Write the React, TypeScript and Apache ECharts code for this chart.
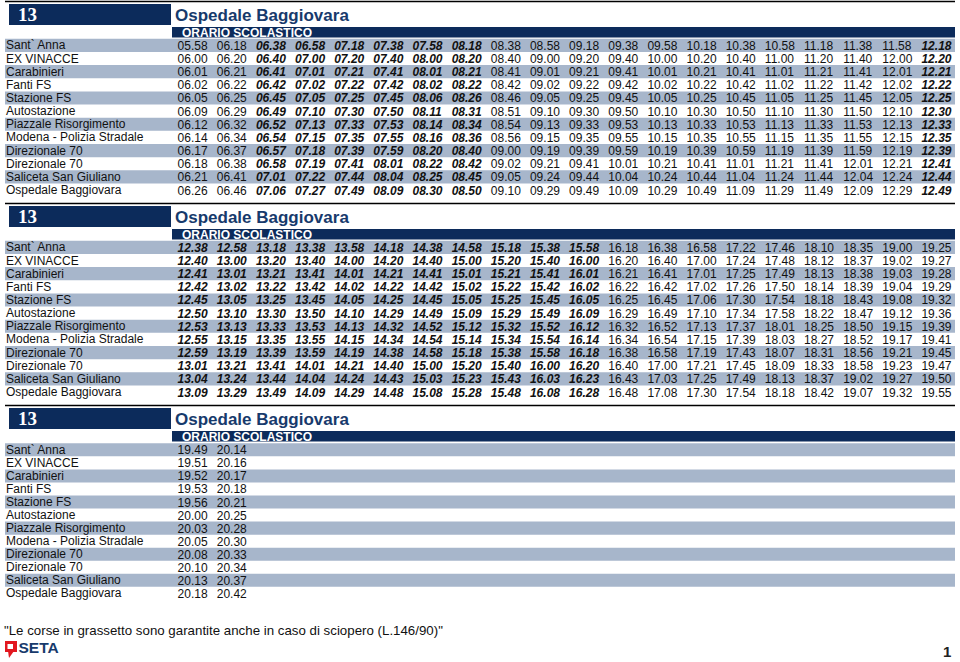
import React, { useEffect, useRef } from "react";
import * as echarts from "echarts";

// ---------- text content ----------
const ROUTE = "13";
const TITLE = "Ospedale Baggiovara";
const SUBTITLE = "ORARIO SCOLASTICO";
const FOOTNOTE = "\"Le corse in grassetto sono garantite anche in caso di sciopero (L.146/90)\"";
const BRAND = "SETA";
const PAGE = "1";

// ---------- stops (row labels) ----------
const stops = [
  "Sant` Anna",
  "EX VINACCE",
  "Carabinieri",
  "Fanti FS",
  "Stazione FS",
  "Autostazione",
  "Piazzale Risorgimento",
  "Modena - Polizia Stradale",
  "Direzionale 70",
  "Direzionale 70",
  "Saliceta San Giuliano",
  "Ospedale Baggiovara",
];

// ---------- trips (one array per run, top to bottom) ----------
const morningTrips = [
  ["05.58", "06.00", "06.01", "06.02", "06.05", "06.09", "06.12", "06.14", "06.17", "06.18", "06.21", "06.26"],
  ["06.18", "06.20", "06.21", "06.22", "06.25", "06.29", "06.32", "06.34", "06.37", "06.38", "06.41", "06.46"],
  ["06.38", "06.40", "06.41", "06.42", "06.45", "06.49", "06.52", "06.54", "06.57", "06.58", "07.01", "07.06"],
  ["06.58", "07.00", "07.01", "07.02", "07.05", "07.10", "07.13", "07.15", "07.18", "07.19", "07.22", "07.27"],
  ["07.18", "07.20", "07.21", "07.22", "07.25", "07.30", "07.33", "07.35", "07.39", "07.41", "07.44", "07.49"],
  ["07.38", "07.40", "07.41", "07.42", "07.45", "07.50", "07.53", "07.55", "07.59", "08.01", "08.04", "08.09"],
  ["07.58", "08.00", "08.01", "08.02", "08.06", "08.11", "08.14", "08.16", "08.20", "08.22", "08.25", "08.30"],
  ["08.18", "08.20", "08.21", "08.22", "08.26", "08.31", "08.34", "08.36", "08.40", "08.42", "08.45", "08.50"],
  ["08.38", "08.40", "08.41", "08.42", "08.46", "08.51", "08.54", "08.56", "09.00", "09.02", "09.05", "09.10"],
  ["08.58", "09.00", "09.01", "09.02", "09.05", "09.10", "09.13", "09.15", "09.19", "09.21", "09.24", "09.29"],
  ["09.18", "09.20", "09.21", "09.22", "09.25", "09.30", "09.33", "09.35", "09.39", "09.41", "09.44", "09.49"],
  ["09.38", "09.40", "09.41", "09.42", "09.45", "09.50", "09.53", "09.55", "09.59", "10.01", "10.04", "10.09"],
  ["09.58", "10.00", "10.01", "10.02", "10.05", "10.10", "10.13", "10.15", "10.19", "10.21", "10.24", "10.29"],
  ["10.18", "10.20", "10.21", "10.22", "10.25", "10.30", "10.33", "10.35", "10.39", "10.41", "10.44", "10.49"],
  ["10.38", "10.40", "10.41", "10.42", "10.45", "10.50", "10.53", "10.55", "10.59", "11.01", "11.04", "11.09"],
  ["10.58", "11.00", "11.01", "11.02", "11.05", "11.10", "11.13", "11.15", "11.19", "11.21", "11.24", "11.29"],
  ["11.18", "11.20", "11.21", "11.22", "11.25", "11.30", "11.33", "11.35", "11.39", "11.41", "11.44", "11.49"],
  ["11.38", "11.40", "11.41", "11.42", "11.45", "11.50", "11.53", "11.55", "11.59", "12.01", "12.04", "12.09"],
  ["11.58", "12.00", "12.01", "12.02", "12.05", "12.10", "12.13", "12.15", "12.19", "12.21", "12.24", "12.29"],
  ["12.18", "12.20", "12.21", "12.22", "12.25", "12.30", "12.33", "12.35", "12.39", "12.41", "12.44", "12.49"],
];
const morningBold = [2, 3, 4, 5, 6, 7, 19];

const afternoonTrips = [
  ["12.38", "12.40", "12.41", "12.42", "12.45", "12.50", "12.53", "12.55", "12.59", "13.01", "13.04", "13.09"],
  ["12.58", "13.00", "13.01", "13.02", "13.05", "13.10", "13.13", "13.15", "13.19", "13.21", "13.24", "13.29"],
  ["13.18", "13.20", "13.21", "13.22", "13.25", "13.30", "13.33", "13.35", "13.39", "13.41", "13.44", "13.49"],
  ["13.38", "13.40", "13.41", "13.42", "13.45", "13.50", "13.53", "13.55", "13.59", "14.01", "14.04", "14.09"],
  ["13.58", "14.00", "14.01", "14.02", "14.05", "14.10", "14.13", "14.15", "14.19", "14.21", "14.24", "14.29"],
  ["14.18", "14.20", "14.21", "14.22", "14.25", "14.29", "14.32", "14.34", "14.38", "14.40", "14.43", "14.48"],
  ["14.38", "14.40", "14.41", "14.42", "14.45", "14.49", "14.52", "14.54", "14.58", "15.00", "15.03", "15.08"],
  ["14.58", "15.00", "15.01", "15.02", "15.05", "15.09", "15.12", "15.14", "15.18", "15.20", "15.23", "15.28"],
  ["15.18", "15.20", "15.21", "15.22", "15.25", "15.29", "15.32", "15.34", "15.38", "15.40", "15.43", "15.48"],
  ["15.38", "15.40", "15.41", "15.42", "15.45", "15.49", "15.52", "15.54", "15.58", "16.00", "16.03", "16.08"],
  ["15.58", "16.00", "16.01", "16.02", "16.05", "16.09", "16.12", "16.14", "16.18", "16.20", "16.23", "16.28"],
  ["16.18", "16.20", "16.21", "16.22", "16.25", "16.29", "16.32", "16.34", "16.38", "16.40", "16.43", "16.48"],
  ["16.38", "16.40", "16.41", "16.42", "16.45", "16.49", "16.52", "16.54", "16.58", "17.00", "17.03", "17.08"],
  ["16.58", "17.00", "17.01", "17.02", "17.06", "17.10", "17.13", "17.15", "17.19", "17.21", "17.25", "17.30"],
  ["17.22", "17.24", "17.25", "17.26", "17.30", "17.34", "17.37", "17.39", "17.43", "17.45", "17.49", "17.54"],
  ["17.46", "17.48", "17.49", "17.50", "17.54", "17.58", "18.01", "18.03", "18.07", "18.09", "18.13", "18.18"],
  ["18.10", "18.12", "18.13", "18.14", "18.18", "18.22", "18.25", "18.27", "18.31", "18.33", "18.37", "18.42"],
  ["18.35", "18.37", "18.38", "18.39", "18.43", "18.47", "18.50", "18.52", "18.56", "18.58", "19.02", "19.07"],
  ["19.00", "19.02", "19.03", "19.04", "19.08", "19.12", "19.15", "19.17", "19.21", "19.23", "19.27", "19.32"],
  ["19.25", "19.27", "19.28", "19.29", "19.32", "19.36", "19.39", "19.41", "19.45", "19.47", "19.50", "19.55"],
];
const afternoonBold = [0, 1, 2, 3, 4, 5, 6, 7, 8, 9, 10];

const eveningTrips = [
  ["19.49", "19.51", "19.52", "19.53", "19.56", "20.00", "20.03", "20.05", "20.08", "20.10", "20.13", "20.18"],
  ["20.14", "20.16", "20.17", "20.18", "20.21", "20.25", "20.28", "20.30", "20.33", "20.34", "20.37", "20.42"],
];
const eveningBold: number[] = [];

// ---------- styles / layout ----------
const FONT = "'Liberation Sans', Arial, Helvetica, sans-serif";
const SERIF = "'Liberation Serif', 'Times New Roman', serif";
const NAVY = "#0c2b5b";
const TITLE_BLUE = "#173a6c";
const STRIPE = "#a7b6cb";
const INK = "#111111";
const RED = "#e2171f";
const X_MIN = -4.4087;
const X_MAX = 19.857;

const blocks = [
  { trips: morningTrips, bold: morningBold, head: 0, top: 38.8, rowH: 13.15 },
  { trips: afternoonTrips, bold: afternoonBold, head: 202, top: 240.8, rowH: 13.15 },
  { trips: eveningTrips, bold: eveningBold, head: 404, top: 443.3, rowH: 13.05 },
];

function headerElements(oy: number) {
  return [
    { type: "line", shape: { x1: 5, y1: oy + 1.5, x2: 955, y2: oy + 1.5 }, style: { stroke: "#000", lineWidth: 1.6 }, silent: true },
    { type: "rect", shape: { x: 9, y: oy + 4, width: 162, height: 21 }, style: { fill: NAVY }, silent: true },
    {
      type: "text", x: 18, y: oy + 14.5, silent: true,
      style: { text: ROUTE, fill: "#fff", fontSize: 19, fontWeight: "bold", fontFamily: SERIF, align: "left", verticalAlign: "middle" },
    },
    {
      type: "text", x: 175, y: oy + 15, silent: true,
      style: { text: TITLE, fill: TITLE_BLUE, fontSize: 17, fontWeight: "bold", fontFamily: FONT, align: "left", verticalAlign: "middle" },
    },
    { type: "rect", shape: { x: 172, y: oy + 27, width: 783, height: 10.5 }, style: { fill: NAVY }, silent: true },
    {
      type: "text", x: 182, y: oy + 32.5, silent: true,
      style: { text: SUBTITLE, fill: "#fff", fontSize: 12, fontWeight: "bold", fontFamily: FONT, align: "left", verticalAlign: "middle" },
    },
  ];
}

export default function App() {
  const ref = useRef<HTMLDivElement>(null);

  useEffect(() => {
    if (!ref.current) return;
    const chart = echarts.init(ref.current, undefined, { renderer: "svg" });

    const cellSets = blocks.map((b) => {
      const cells: { c: number; r: number; t: string; bold: boolean }[] = [];
      b.trips.forEach((col, c) => {
        col.forEach((t, r) => cells.push({ c, r, t, bold: b.bold.indexOf(c) >= 0 }));
      });
      return cells;
    });

    const graphicElements: any[] = [];
    blocks.forEach((b) => graphicElements.push(...headerElements(b.head)));
    graphicElements.push(
      {
        type: "text", x: 4, y: 630, silent: true,
        style: { text: FOOTNOTE, fill: INK, fontSize: 13.3, fontFamily: FONT, align: "left", verticalAlign: "middle" },
      },
      { type: "rect", shape: { x: 5, y: 641, width: 12, height: 11 }, style: { fill: RED }, silent: true },
      { type: "polygon", shape: { points: [[8, 651], [14, 651], [9, 658]] }, style: { fill: RED }, silent: true },
      { type: "rect", shape: { x: 7.5, y: 644, width: 5.5, height: 5 }, style: { fill: "#fff" }, silent: true },
      {
        type: "text", x: 18.5, y: 647, silent: true,
        style: { text: BRAND, fill: TITLE_BLUE, fontSize: 15.5, fontWeight: "bold", fontFamily: FONT, align: "left", verticalAlign: "middle" },
      },
      {
        type: "text", x: 943, y: 651, silent: true,
        style: { text: PAGE, fill: "#222", fontSize: 15, fontWeight: "bold", fontFamily: FONT, align: "left", verticalAlign: "middle" },
      }
    );

    const option: any = {
      animation: false,
      backgroundColor: "#ffffff",
      grid: blocks.map((b) => ({
        left: 5,
        width: 950,
        top: b.top,
        height: b.rowH * stops.length,
        containLabel: false,
        outerBoundsMode: "none",
      })),
      xAxis: blocks.map((_, i) => ({
        gridIndex: i,
        type: "value",
        min: X_MIN,
        max: X_MAX,
        show: false,
      })),
      yAxis: blocks.map((_, i) => ({
        gridIndex: i,
        type: "category",
        data: stops,
        inverse: true,
        boundaryGap: true,
        axisLine: { show: false },
        axisTick: { show: false },
        splitLine: { show: false },
        splitArea: { show: true, areaStyle: { color: [STRIPE, "rgba(255,255,255,0)"] } },
        axisLabel: {
          show: true,
          inside: true,
          margin: 1,
          interval: 0,
          color: INK,
          fontSize: 12,
          fontFamily: FONT,
          formatter: (_v: string, idx: number) => stops[idx],
        },
      })),
      series: blocks.map((_, i) => ({
        type: "custom",
        coordinateSystem: "cartesian2d",
        xAxisIndex: i,
        yAxisIndex: i,
        silent: true,
        data: cellSets[i].map((d) => [d.c, d.r]),
        renderItem: (params: any, api: any) => {
          const d = cellSets[i][params.dataIndex];
          const pt = api.coord([api.value(0), api.value(1)]);
          return {
            type: "text",
            x: pt[0],
            y: pt[1] + 0.5,
            style: {
              text: d.t,
              fill: INK,
              fontSize: 12,
              fontFamily: FONT,
              fontWeight: d.bold ? "bold" : "normal",
              fontStyle: d.bold ? "italic" : "normal",
              align: "left",
              verticalAlign: "middle",
            },
          };
        },
      })),
      graphic: { elements: graphicElements },
    };

    chart.setOption(option);
    return () => chart.dispose();
  }, []);

  return (
    <div
      ref={ref}
      style={{ position: "fixed", left: 0, top: 0, width: 960, height: 662, background: "#fff" }}
    />
  );
}
